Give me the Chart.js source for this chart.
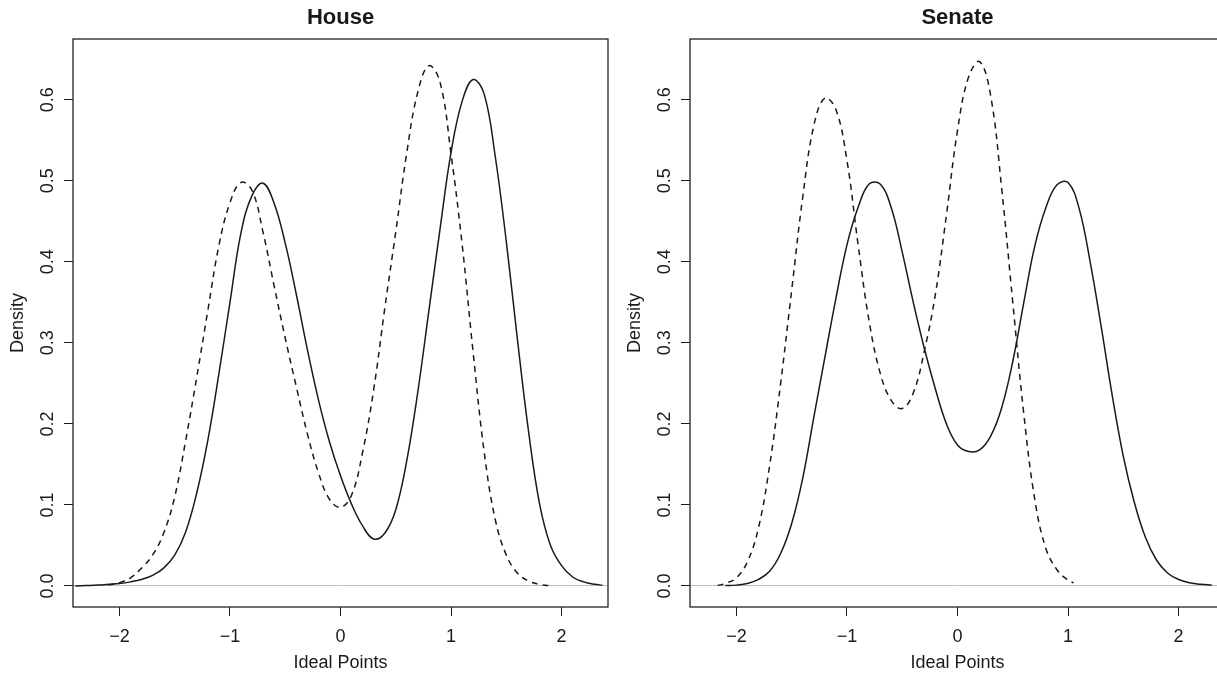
<!DOCTYPE html>
<html>
<head>
<meta charset="utf-8">
<title>House / Senate ideal point densities</title>
<script src="https://cdn.jsdelivr.net/npm/chart.js@4.4.1/dist/chart.umd.min.js"></script>
<style>
html,body{margin:0;padding:0;background:#fff;overflow:hidden;width:1217px;height:674px}
.panel{position:absolute;top:0;width:620px;height:674px}
</style>
</head>
<body>
<div class="panel" style="left:0"><canvas id="houseChart" width="620" height="674"></canvas></div>
<div class="panel" style="left:617px"><canvas id="senateChart" width="620" height="674"></canvas></div>
<script>
// tick labels
const xTicks = [-2, -1, 0, 1, 2];
const yTicks = [0, 0.1, 0.2, 0.3, 0.4, 0.5, 0.6];

// House, solid curve
const houseSolidX = [-2.4,-2.3,-2.2,-2.1,-2.0,-1.9,-1.8,-1.7,-1.6,-1.5,-1.4,-1.3,-1.2,-1.1,-1.0,-0.9,-0.8,-0.7,-0.6,-0.5,-0.4,-0.3,-0.2,-0.1,0.0,0.1,0.2,0.3,0.4,0.5,0.6,0.7,0.8,0.9,1.0,1.1,1.2,1.3,1.4,1.5,1.6,1.7,1.8,1.9,2.0,2.1,2.2,2.3,2.37];
const houseSolidY = [0.000,0.0005,0.001,0.002,0.003,0.005,0.008,0.013,0.022,0.038,0.067,0.115,0.180,0.262,0.350,0.436,0.482,0.497,0.472,0.423,0.360,0.292,0.230,0.178,0.136,0.101,0.074,0.058,0.065,0.094,0.155,0.240,0.340,0.440,0.535,0.598,0.625,0.607,0.530,0.425,0.305,0.192,0.102,0.050,0.025,0.011,0.005,0.002,0.001];

// House, dashed curve
const houseDashX = [-2.1,-2.0,-1.9,-1.8,-1.7,-1.6,-1.5,-1.4,-1.3,-1.2,-1.1,-1.0,-0.9,-0.8,-0.7,-0.6,-0.5,-0.4,-0.3,-0.2,-0.1,0.0,0.1,0.2,0.3,0.4,0.5,0.6,0.7,0.8,0.9,1.0,1.1,1.2,1.3,1.4,1.5,1.6,1.7,1.8,1.88];
const houseDashY = [0.001,0.004,0.010,0.022,0.038,0.065,0.110,0.180,0.258,0.340,0.420,0.473,0.498,0.488,0.436,0.370,0.306,0.246,0.188,0.140,0.107,0.097,0.112,0.165,0.242,0.342,0.437,0.535,0.610,0.642,0.622,0.533,0.422,0.288,0.165,0.082,0.038,0.016,0.006,0.002,0.0005];

// Senate, solid curve
const senateSolidX = [-2.1,-2.0,-1.9,-1.8,-1.7,-1.6,-1.5,-1.4,-1.3,-1.2,-1.1,-1.0,-0.9,-0.8,-0.7,-0.6,-0.5,-0.4,-0.3,-0.2,-0.1,0.0,0.1,0.2,0.3,0.4,0.5,0.6,0.7,0.8,0.9,1.0,1.1,1.2,1.3,1.4,1.5,1.6,1.7,1.8,1.9,2.0,2.1,2.2,2.3];
const senateSolidY = [0.0005,0.001,0.003,0.008,0.018,0.040,0.077,0.133,0.208,0.282,0.355,0.421,0.467,0.496,0.496,0.467,0.412,0.350,0.293,0.243,0.200,0.174,0.166,0.168,0.185,0.220,0.277,0.350,0.420,0.467,0.495,0.498,0.466,0.400,0.320,0.235,0.160,0.103,0.060,0.032,0.016,0.008,0.004,0.002,0.001];

// Senate, dashed curve
const senateDashX = [-2.17,-2.1,-2.0,-1.9,-1.8,-1.7,-1.6,-1.5,-1.4,-1.3,-1.2,-1.1,-1.0,-0.9,-0.8,-0.7,-0.6,-0.5,-0.4,-0.3,-0.2,-0.1,0.0,0.1,0.2,0.3,0.4,0.5,0.6,0.7,0.8,0.9,1.0,1.05];
const senateDashY = [0.0005,0.003,0.010,0.030,0.072,0.148,0.250,0.365,0.480,0.568,0.602,0.588,0.525,0.422,0.327,0.263,0.229,0.219,0.238,0.290,0.360,0.458,0.562,0.628,0.647,0.605,0.490,0.350,0.212,0.106,0.046,0.020,0.007,0.004];

const xMin = -2.42, xMax = 2.42;
const yMin = -0.026, yMax = 0.675;

const ink = '#1a1a1a';
const axisFont = {family: '"Liberation Sans", Arial, Helvetica, sans-serif', size: 18};

function pts(xs, ys){ return xs.map((x,i)=>({x:x, y:ys[i]})); }

function fmtX(v){ return v < 0 ? '\u2212' + Math.abs(v) : String(v); }

// box round the plot region and the panel title, R style
function framePlugin(title){
  return {
    id: 'frame',
    afterDraw(chart){
      const a = chart.chartArea, ctx = chart.ctx;
      ctx.save();
      ctx.strokeStyle = '#222';
      ctx.lineWidth = 1.3;
      ctx.strokeRect(a.left, a.top, a.right - a.left, a.bottom - a.top);
      ctx.fillStyle = ink;
      ctx.font = 'bold 22px "Liberation Sans", Arial, Helvetica, sans-serif';
      ctx.textAlign = 'center';
      ctx.textBaseline = 'middle';
      ctx.fillText(title, (a.left + a.right) / 2, 18);
      ctx.restore();
    }
  };
}

function buildChart(id, title, solidX, solidY, dashX, dashY){
  new Chart(document.getElementById(id), {
    type: 'line',
    data: {datasets: [
      {data: pts(solidX, solidY), borderColor: ink, borderWidth: 1.5, pointRadius: 0, fill: false, tension: 0.4},
      {data: pts(dashX, dashY), borderColor: ink, borderWidth: 1.5, borderDash: [6,5], pointRadius: 0, fill: false, tension: 0.4}
    ]},
    options: {
      responsive: false,
      animation: false,
      events: [],
      layout: {padding: {top: 39, right: 12, bottom: 0, left: 0}},
      plugins: {legend: {display: false}, tooltip: {enabled: false}, title: {display: false}},
      scales: {
        x: {
          type: 'linear', min: xMin, max: xMax,
          afterBuildTicks: s => { s.ticks = xTicks.map(v => ({value: v})); },
          afterFit: s => { s.height = 674 - 607; },
          grid: {drawOnChartArea: false, drawTicks: true, tickLength: 9, tickColor: ink, tickWidth: 1},
          border: {display: false},
          ticks: {color: ink, font: axisFont, padding: 10, maxRotation: 0, callback: v => fmtX(v)},
          title: {display: true, text: 'Ideal Points', color: ink, font: axisFont, padding: 0}
        },
        y: {
          type: 'linear', min: yMin, max: yMax,
          afterBuildTicks: s => { s.ticks = yTicks.map(v => ({value: v})); },
          afterFit: s => { s.width = 73; },
          grid: {
            color: c => (c.tick && c.tick.value === 0) ? '#bebebe' : 'rgba(0,0,0,0)',
            lineWidth: 1, drawTicks: true, tickLength: 9, tickColor: ink, tickWidth: 1
          },
          border: {display: false},
          ticks: {color: ink, font: axisFont, padding: 3, minRotation: 90, maxRotation: 90, crossAlign: 'center', callback: v => v.toFixed(1)},
          title: {display: true, text: 'Density', color: ink, font: axisFont, padding: {top: 7.5, bottom: 0}}
        }
      }
    },
    plugins: [framePlugin(title)]
  });
}

buildChart('houseChart', 'House', houseSolidX, houseSolidY, houseDashX, houseDashY);
buildChart('senateChart', 'Senate', senateSolidX, senateSolidY, senateDashX, senateDashY);
</script>
</body>
</html>
